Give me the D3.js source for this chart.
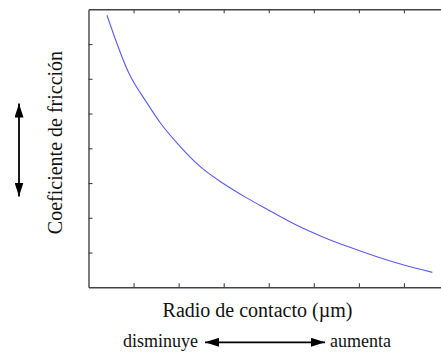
<!DOCTYPE html>
<html>
<head>
<meta charset="utf-8">
<script src="https://cdn.jsdelivr.net/npm/d3@7/dist/d3.min.js"></script>
<style>
  html, body { margin: 0; padding: 0; background: #fff; }
  svg { display: block; }
</style>
</head>
<body>
<svg id="chart" width="441" height="352"></svg>
<script>
// Contact radius (arbitrary units) and friction coefficient along the curve
const radius = [0.41, 0.9, 1.3, 1.6, 2.0, 2.5, 3.0, 3.5, 4.0, 4.6, 5.2, 5.8, 6.4, 7.0, 7.63];
const friction = [7.83, 6.15, 5.30, 4.72, 4.10, 3.45, 2.98, 2.58, 2.22, 1.80, 1.45, 1.15, 0.88, 0.64, 0.43];

// Unlabelled tick positions
const xTicks = [1, 2, 3, 4, 5, 6, 7];
const yTicks = [1, 2, 3, 4, 5, 6, 7];

// Axis titles and direction hints
const yTitle = "Coeficiente de fricción";
const xTitle = "Radio de contacto (\u00B5m)";
const lessLabel = "disminuye";
const moreLabel = "aumenta";

const serif = '"Liberation Serif"';

const svg = d3.select("#chart");

const plotLeft = 88.5, plotRight = 449, plotTop = 9.3, plotBottom = 287.3;
const x = d3.scaleLinear().domain([0, 8]).range([plotLeft, plotRight]);
const y = d3.scaleLinear().domain([0, 8]).range([plotBottom, plotTop]);

const axisColor = "#444";
const tickLen = 4;

function styleAxis(g) {
  g.select(".domain").attr("stroke", axisColor).attr("stroke-width", 1.4);
  g.selectAll(".tick line").attr("stroke", axisColor).attr("stroke-width", 1.1);
  g.selectAll(".tick text").remove();
}

// Bottom, top and left frame sides with inward ticks
svg.append("g")
  .attr("transform", `translate(0,${plotBottom})`)
  .call(d3.axisBottom(x).tickValues(xTicks).tickSizeInner(-tickLen).tickSizeOuter(0).tickFormat(""))
  .call(styleAxis);

svg.append("g")
  .attr("transform", `translate(0,${plotTop})`)
  .call(d3.axisTop(x).tickValues(xTicks).tickSizeInner(-tickLen).tickSizeOuter(0).tickFormat(""))
  .call(styleAxis);

svg.append("g")
  .attr("transform", `translate(${plotLeft},0)`)
  .call(d3.axisLeft(y).tickValues(yTicks).tickSizeInner(-tickLen).tickSizeOuter(0).tickFormat(""))
  .call(styleAxis);

// Friction curve
const line = d3.line()
  .x((d, i) => x(radius[i]))
  .y((d, i) => y(friction[i]))
  .curve(d3.curveMonotoneX);

svg.append("path")
  .datum(friction)
  .attr("d", line)
  .attr("fill", "none")
  .attr("stroke", "#5a5af5")
  .attr("stroke-width", 1.1);

// Text helper using the serif face
function label(sel, size) {
  return sel.style("font-family", serif).style("font-size", size + "px").attr("fill", "#111");
}

// Axis titles
svg.append("text")
  .attr("transform", "translate(62,142.5) rotate(-90)")
  .attr("text-anchor", "middle")
  .call(label, 20)
  .text(yTitle);

svg.append("text")
  .attr("x", 257.5)
  .attr("y", 317)
  .attr("text-anchor", "middle")
  .call(label, 20)
  .text(xTitle);

// Double-headed arrows
const defs = svg.append("defs");
defs.append("marker")
  .attr("id", "head")
  .attr("viewBox", "0 0 14 9")
  .attr("refX", 14)
  .attr("refY", 4.5)
  .attr("markerWidth", 14)
  .attr("markerHeight", 9)
  .attr("markerUnits", "userSpaceOnUse")
  .attr("orient", "auto-start-reverse")
  .append("path")
  .attr("d", "M0,0L14,4.5L0,9Z")
  .attr("fill", "#000");

svg.append("line")
  .attr("x1", 19).attr("y1", 103.5)
  .attr("x2", 19).attr("y2", 196.5)
  .attr("stroke", "#000").attr("stroke-width", 1.8)
  .attr("marker-start", "url(#head)")
  .attr("marker-end", "url(#head)");

svg.append("line")
  .attr("x1", 205).attr("y1", 342.3)
  .attr("x2", 325).attr("y2", 342.3)
  .attr("stroke", "#000").attr("stroke-width", 1.8)
  .attr("marker-start", "url(#head)")
  .attr("marker-end", "url(#head)");

// Direction hints
svg.append("text")
  .attr("x", 198)
  .attr("y", 347)
  .attr("text-anchor", "end")
  .call(label, 18)
  .text(lessLabel);

svg.append("text")
  .attr("x", 330)
  .attr("y", 347)
  .attr("text-anchor", "start")
  .call(label, 18)
  .text(moreLabel);
</script>
</body>
</html>
